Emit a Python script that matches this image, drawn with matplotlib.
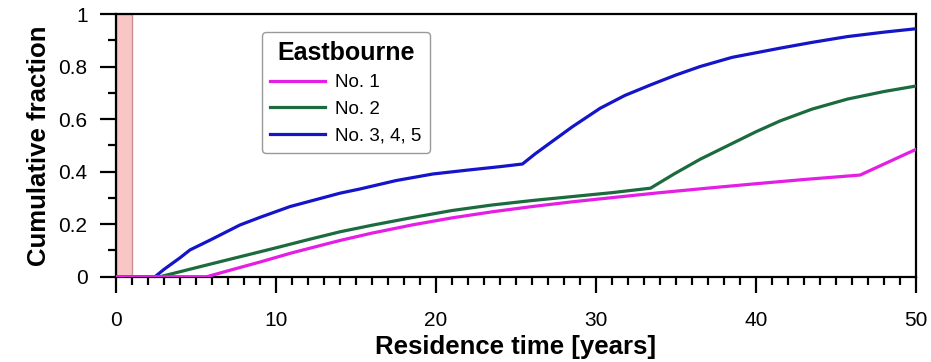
import matplotlib.pyplot as plt
from matplotlib.ticker import MultipleLocator

plt.rcParams['font.family'] = ['Liberation Sans', 'DejaVu Sans']

# Datos
t_no1 = [0, 5.67, 7.5, 9, 11, 14, 16, 18.5, 21, 23.5, 26, 28.5, 31, 34, 37.3, 40, 43, 46.5, 50]
f_no1 = [0, 0, 0.031, 0.056, 0.091, 0.138, 0.166, 0.197, 0.224, 0.247, 0.267, 0.285, 0.301, 0.320,
         0.339, 0.354, 0.370, 0.387, 0.485]

t_no2 = [0, 2.75, 4, 5.5, 7.75, 10, 12, 14, 16, 18.5, 21, 23.5, 26, 28.5, 31, 33.4, 34.9, 36.5,
         38.5, 40, 41.5, 43.5, 45.7, 48, 50]
f_no2 = [0, 0, 0.019, 0.042, 0.076, 0.110, 0.141, 0.171, 0.196, 0.225, 0.252, 0.273, 0.290, 0.305,
         0.320, 0.337, 0.392, 0.447, 0.507, 0.552, 0.593, 0.638, 0.676, 0.705, 0.726]

t_no345 = [0, 2.44, 3, 4, 4.625, 5.9, 7.75, 9, 10.875, 12.1, 14, 15.25, 17.5, 19.8, 22, 24, 25.4,
           26.2, 27.1, 28.5, 30.25, 31.8, 33.4, 35, 36.5, 38.5, 41.5, 43.5, 45.7, 48, 50]
f_no345 = [0, 0, 0.028, 0.072, 0.102, 0.140, 0.197, 0.226, 0.267, 0.287, 0.318, 0.334, 0.366, 0.391,
           0.406, 0.419, 0.429, 0.468, 0.508, 0.570, 0.641, 0.690, 0.730, 0.768, 0.800, 0.835,
           0.870, 0.892, 0.914, 0.931, 0.944]

etiquetas = ['No. 1', 'No. 2', 'No. 3, 4, 5']
colores = ['#e41ee4', '#1c6b3e', '#1414c8']
banda = (0, 1)

fig = plt.figure(figsize=(9.31, 3.62), dpi=100)
ax = fig.add_axes([0.1246, 0.2356, 0.8594, 0.7257])

ax.axvspan(banda[0], banda[1], facecolor='#f9c6c6', edgecolor='#c89090', linewidth=1, zorder=1)

ax.plot(t_no1, f_no1, color=colores[0], lw=2.3, label=etiquetas[0], zorder=5)
ax.plot(t_no2, f_no2, color=colores[1], lw=2.3, label=etiquetas[1], zorder=4)
ax.plot(t_no345, f_no345, color=colores[2], lw=2.3, label=etiquetas[2], zorder=3)

ax.set_xlim(0, 50)
ax.set_ylim(0, 1)
ax.xaxis.set_major_locator(MultipleLocator(10))
ax.xaxis.set_minor_locator(MultipleLocator(1))
ax.yaxis.set_minor_locator(MultipleLocator(0.1))
ax.set_yticks([0, 0.2, 0.4, 0.6, 0.8, 1.0], ['0', '0.2', '0.4', '0.6', '0.8', '1'])

ax.tick_params(axis='both', which='major', direction='out', length=11.5, width=1.6, labelsize=15, top=False, right=False)
ax.tick_params(axis='both', which='minor', direction='out', length=6, width=1.6, top=False, right=False)
ax.tick_params(axis='x', which='major', pad=13)
ax.tick_params(axis='y', which='major', pad=9)
for s in ax.spines.values():
    s.set_linewidth(1.6)

ax.set_xlabel('Residence time [years]', fontsize=18.5, fontweight='bold', labelpad=4)
ax.set_ylabel('Cumulative fraction', fontsize=18.5, fontweight='bold', labelpad=5)

leg = ax.legend(loc='upper left', bbox_to_anchor=(0.1825, 0.931), borderaxespad=0,
                fontsize=13.5, title='Eastbourne', handlelength=2.9, handletextpad=0.55,
                labelspacing=0.5, borderpad=0.45, fancybox=True, framealpha=1, edgecolor='#999999')
leg.get_title().set_fontsize(18)
leg.get_title().set_fontweight('bold')
leg.get_frame().set_linewidth(1)

fig.savefig('out.png', dpi=100)
